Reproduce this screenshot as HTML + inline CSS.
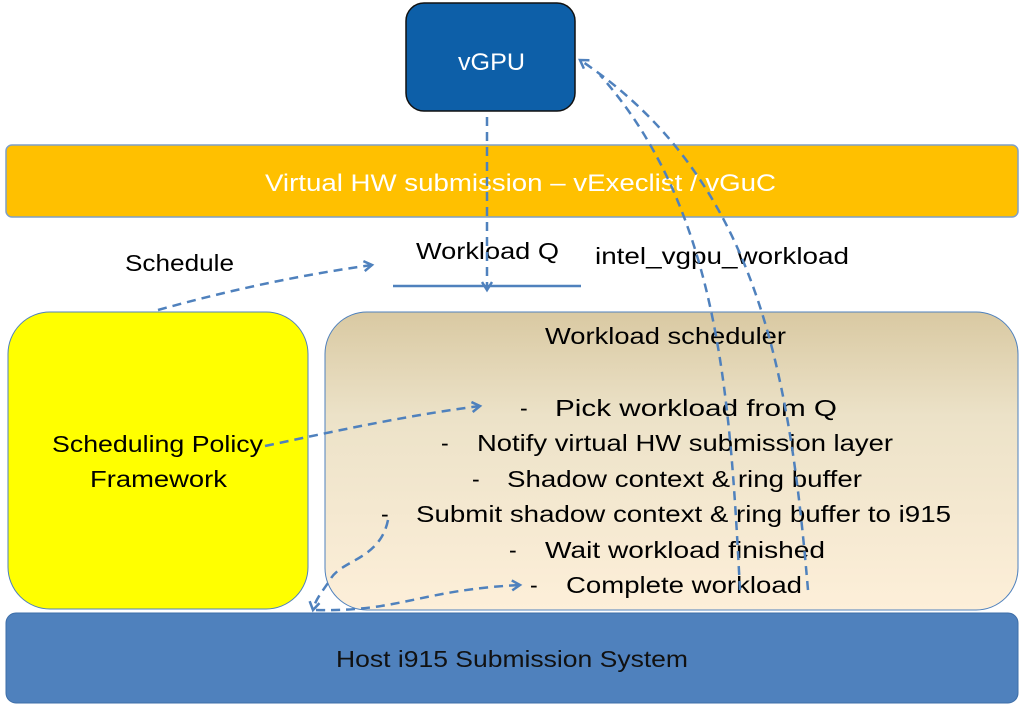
<!DOCTYPE html>
<html><head><meta charset="utf-8"><style>
html,body{margin:0;padding:0;background:#fff}
svg{display:block}
text{font-family:"Liberation Sans",sans-serif}
</style></head><body>
<svg width="1024" height="712" viewBox="0 0 1024 712" xmlns="http://www.w3.org/2000/svg">
<defs>
<linearGradient id="g" x1="0" y1="0" x2="0" y2="1">
<stop offset="0" stop-color="#d9c9a2"/><stop offset="0.35" stop-color="#ece2c8"/><stop offset="1" stop-color="#fdefd9"/>
</linearGradient>
<marker id="a" markerWidth="12" markerHeight="12" refX="9" refY="6" orient="auto" markerUnits="userSpaceOnUse">
<path d="M1,1 L9,6 L1,11" fill="none" stroke="#4f81bd" stroke-width="2.5"/>
</marker>
</defs>
<rect x="406" y="3" width="169" height="108" rx="18" fill="#0d5fa8" stroke="#111" stroke-width="1.5"/>
<text x="458" y="70" font-size="24" fill="#fff" textLength="67" lengthAdjust="spacingAndGlyphs">vGPU</text>
<rect x="6" y="145" width="1012" height="72" rx="6" fill="#ffc000" stroke="#7f9fc7" stroke-width="1.5"/>
<text x="265" y="191" font-size="24" fill="#fff" textLength="511" lengthAdjust="spacingAndGlyphs">Virtual HW submission – vExeclist / vGuC</text>
<text x="416" y="259" font-size="23" textLength="143" lengthAdjust="spacingAndGlyphs">Workload Q</text>
<text x="595" y="264" font-size="23" textLength="254" lengthAdjust="spacingAndGlyphs">intel_vgpu_workload</text>
<text x="125" y="271" font-size="23" textLength="109" lengthAdjust="spacingAndGlyphs">Schedule</text>
<line x1="393" y1="286" x2="581" y2="286" stroke="#4f81bd" stroke-width="2.5"/>
<rect x="8" y="312" width="300" height="297" rx="42" fill="#ffff00" stroke="#4f81bd" stroke-width="1"/>
<rect x="325" y="312" width="693" height="298" rx="42" fill="url(#g)" stroke="#4f81bd" stroke-width="1"/>
<rect x="6" y="613" width="1012" height="90" rx="10" fill="#4f81bd" stroke="#3d6ea8"/>
<text x="336" y="667" font-size="23" fill="#111" textLength="352" lengthAdjust="spacingAndGlyphs">Host i915 Submission System</text>
<text x="52" y="452" font-size="23" textLength="211" lengthAdjust="spacingAndGlyphs">Scheduling Policy</text>
<text x="90" y="487" font-size="23" textLength="137" lengthAdjust="spacingAndGlyphs">Framework</text>
<g font-size="23">
<text x="545" y="344" textLength="241" lengthAdjust="spacingAndGlyphs">Workload scheduler</text>
<text x="520" y="416">-</text><text x="555" y="416" textLength="282" lengthAdjust="spacingAndGlyphs">Pick workload from Q</text>
<text x="441" y="451">-</text><text x="477" y="451" textLength="416" lengthAdjust="spacingAndGlyphs">Notify virtual HW submission layer</text>
<text x="472" y="487">-</text><text x="507" y="487" textLength="355" lengthAdjust="spacingAndGlyphs">Shadow context &amp; ring buffer</text>
<text x="381" y="522">-</text><text x="416" y="522" textLength="535" lengthAdjust="spacingAndGlyphs">Submit shadow context &amp; ring buffer to i915</text>
<text x="509" y="558">-</text><text x="545" y="558" textLength="280" lengthAdjust="spacingAndGlyphs">Wait workload finished</text>
<text x="530" y="593">-</text><text x="566" y="593" textLength="236" lengthAdjust="spacingAndGlyphs">Complete workload</text>
</g>
<g fill="none" stroke="#4f81bd" stroke-width="2.5" stroke-dasharray="9,6">
<path d="M487,117 L487,290" marker-end="url(#a)"/>
<path d="M158,310 C230,290 300,275 372,265" marker-end="url(#a)"/>
<path d="M265,446 C340,430 410,415 480,406" marker-end="url(#a)"/>
<path d="M740,590 C730,400 720,210 600,75" />
<path d="M808,590 C790,380 760,180 580,60" marker-end="url(#a)"/>
<path d="M388,520 C380,560 340,560 330,580 C322,592 315,600 313,610" marker-end="url(#a)"/>
<path d="M316,610 C400,612 420,590 520,585" marker-end="url(#a)"/>
</g>
</svg>
</body></html>
